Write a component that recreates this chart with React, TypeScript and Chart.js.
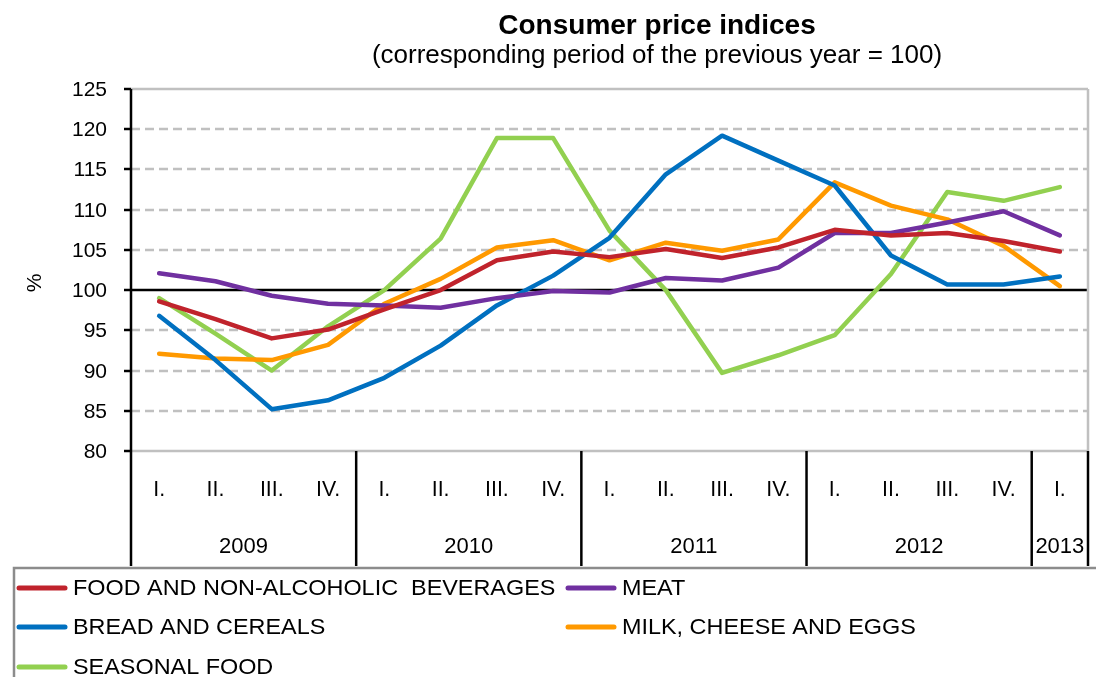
import React, { useEffect, useRef } from "react";
import { Chart, registerables } from "chart.js";
Chart.register(...registerables);

const quarters = ["I.", "II.", "III.", "IV.", "I.", "II.", "III.", "IV.", "I.", "II.", "III.", "IV.", "I.", "II.", "III.", "IV.", "I."];
const years = ["2009", "2010", "2011", "2012", "2013"];
const yearSpans = [4, 4, 4, 4, 1];
const yTicks = [80, 85, 90, 95, 100, 105, 110, 115, 120, 125];

const food = [98.6, 96.4, 94.0, 95.1, 97.6, 100.0, 103.7, 104.8, 104.1, 105.1, 104.0, 105.3, 107.5, 106.8, 107.1, 106.1, 104.8];
const meat = [102.1, 101.1, 99.3, 98.3, 98.1, 97.8, 99.0, 99.9, 99.7, 101.5, 101.2, 102.8, 107.1, 107.1, 108.4, 109.8, 106.8];
const bread = [96.8, 91.3, 85.2, 86.3, 89.1, 93.1, 98.1, 101.8, 106.5, 114.4, 119.2, 116.1, 113.0, 104.3, 100.7, 100.7, 101.7];
const milk = [92.1, 91.5, 91.3, 93.2, 98.3, 101.4, 105.3, 106.2, 103.7, 105.9, 104.9, 106.3, 113.4, 110.5, 108.8, 105.5, 100.5];
const seasonal = [99.0, 94.6, 90.0, 95.5, 100.0, 106.4, 118.9, 118.9, 107.4, 100.0, 89.7, 91.9, 94.4, 102.0, 112.2, 111.1, 112.8];

const seriesNames = [
  "FOOD AND NON-ALCOHOLIC  BEVERAGES",
  "MEAT",
  "BREAD AND CEREALS",
  "MILK, CHEESE AND EGGS",
  "SEASONAL FOOD",
];
const seriesColors = ["#C0232C", "#7030A0", "#0070C0", "#FF9900", "#92D050"];
const seriesData = [food, meat, bread, milk, seasonal];

const FONT = '"Liberation Sans", Arial, sans-serif';

function drawText(
  ctx: CanvasRenderingContext2D,
  text: string,
  x: number,
  y: number,
  font: string,
  align: CanvasTextAlign,
  baseline: CanvasTextBaseline,
  sx: number
) {
  ctx.save();
  ctx.translate(x, y);
  ctx.scale(sx, 1);
  ctx.font = font;
  ctx.textAlign = align;
  ctx.textBaseline = baseline;
  ctx.fillStyle = "#000";
  ctx.fillText(text, 0, 0);
  ctx.restore();
}

export default function App() {
  const ref = useRef<HTMLCanvasElement>(null);

  useEffect(() => {
    if (!ref.current) return;
    const overlay = {
      id: "overlay",
      beforeDatasetsDraw(chart: any) {
        const { ctx, chartArea: ca, scales } = chart;
        const y = scales.y;
        ctx.save();
        for (const v of yTicks) {
          const py = Math.round(y.getPixelForValue(v));
          ctx.beginPath();
          if (v === 100) {
            ctx.strokeStyle = "#000";
            ctx.lineWidth = 2.5;
            ctx.setLineDash([]);
          } else if (v === 125 || v === 80) {
            ctx.strokeStyle = "#C0C0C0";
            ctx.lineWidth = 2.5;
            ctx.setLineDash([]);
          } else {
            ctx.strokeStyle = "#C0C0C0";
            ctx.lineWidth = 2.5;
            ctx.setLineDash([9, 5]);
          }
          ctx.moveTo(ca.left, py);
          ctx.lineTo(ca.right, py);
          ctx.stroke();
        }
        ctx.setLineDash([]);
        ctx.strokeStyle = "#C0C0C0";
        ctx.lineWidth = 2.5;
        ctx.beginPath();
        ctx.moveTo(ca.right, ca.top);
        ctx.lineTo(ca.right, ca.bottom);
        ctx.stroke();
        ctx.restore();
      },
      afterDraw(chart: any) {
        const { ctx, chartArea: ca, scales } = chart;
        const x = scales.x;
        const y = scales.y;
        const axisBottom = 566;
        const half = (x.getPixelForValue(1) - x.getPixelForValue(0)) / 2;
        ctx.save();
        // left axis
        ctx.strokeStyle = "#000";
        ctx.lineWidth = 2.5;
        ctx.beginPath();
        ctx.moveTo(ca.left, ca.top);
        ctx.lineTo(ca.left, axisBottom);
        ctx.stroke();
        // tick marks + y labels
        for (const v of yTicks) {
          const py = Math.round(y.getPixelForValue(v));
          ctx.beginPath();
          ctx.moveTo(ca.left - 7, py);
          ctx.lineTo(ca.left, py);
          ctx.stroke();
          drawText(ctx, String(v), 107, py + 1, `21px ${FONT}`, "right", "middle", 1);
        }
        // separators and x labels
        let idx = 0;
        years.forEach((yr, k) => {
          const start = idx;
          const end = idx + yearSpans[k] - 1;
          const sx = x.getPixelForValue(end) + half;
          ctx.beginPath();
          ctx.moveTo(sx, ca.bottom);
          ctx.lineTo(sx, axisBottom);
          ctx.stroke();
          const cx = (x.getPixelForValue(start) + x.getPixelForValue(end)) / 2;
          drawText(ctx, yr, cx, 547, `22px ${FONT}`, "center", "middle", 1);
          idx += yearSpans[k];
        });
        quarters.forEach((q, i) => {
          drawText(ctx, q, x.getPixelForValue(i), 490, `22px ${FONT}`, "center", "middle", 0.97);
        });
        // % label
        ctx.save();
        ctx.translate(35, 283);
        ctx.rotate(-Math.PI / 2);
        ctx.font = `21px ${FONT}`;
        ctx.textAlign = "center";
        ctx.textBaseline = "middle";
        ctx.fillStyle = "#000";
        ctx.fillText("%", 0, 0);
        ctx.restore();
        // title
        drawText(ctx, "Consumer price indices", 657, 34, `bold 28px ${FONT}`, "center", "alphabetic", 1);
        drawText(ctx, "(corresponding period of the previous year = 100)", 657, 63, `26px ${FONT}`, "center", "alphabetic", 1);
        // legend box
        ctx.strokeStyle = "#8C8C8C";
        ctx.lineWidth = 2.5;
        ctx.beginPath();
        ctx.moveTo(14, 690);
        ctx.lineTo(14, 568);
        ctx.lineTo(1100, 568);
        ctx.stroke();
        const pos = [
          [18, 588],
          [567, 588],
          [18, 627],
          [567, 627],
          [18, 667],
        ];
        ctx.lineCap = "round";
        seriesNames.forEach((name, i) => {
          const [lx, ly] = pos[i];
          ctx.strokeStyle = seriesColors[i];
          ctx.lineWidth = 5;
          ctx.beginPath();
          ctx.moveTo(lx + 1, ly);
          ctx.lineTo(lx + 47, ly);
          ctx.stroke();
          drawText(ctx, name, lx + 55, ly + 1, `22.5px ${FONT}`, "left", "middle", 1.04);
        });
        ctx.restore();
      },
    };

    const chart = new Chart(ref.current, {
      type: "line",
      data: {
        labels: quarters.map((q, i) => `${q}${i}`),
        datasets: seriesData.map((d, i) => ({
          label: seriesNames[i],
          data: d,
          borderColor: seriesColors[i],
          backgroundColor: seriesColors[i],
          borderWidth: 4.5,
          pointRadius: 0,
          tension: 0,
          borderJoinStyle: "round" as const,
          borderCapStyle: "round" as const,
          fill: false,
        })),
      },
      options: {
        responsive: false,
        animation: false,
        devicePixelRatio: 1,
        layout: { padding: { top: 89, right: 8, bottom: 226, left: 0 } },
        plugins: {
          legend: { display: false },
          tooltip: { enabled: false },
          title: { display: false },
        },
        scales: {
          x: {
            type: "category",
            offset: true,
            display: false,
            grid: { display: false },
          },
          y: {
            min: 80,
            max: 125,
            afterFit: (scale: any) => {
              scale.width = 131;
            },
            grid: { display: false },
            border: { display: false },
            ticks: { display: false },
          },
        },
      },
      plugins: [overlay],
    });
    return () => chart.destroy();
  }, []);

  return (
    <div style={{ position: "absolute", left: 0, top: 0, width: 1096, height: 677, background: "#fff" }}>
      <canvas ref={ref} width={1096} height={677} style={{ display: "block" }} />
    </div>
  );
}
